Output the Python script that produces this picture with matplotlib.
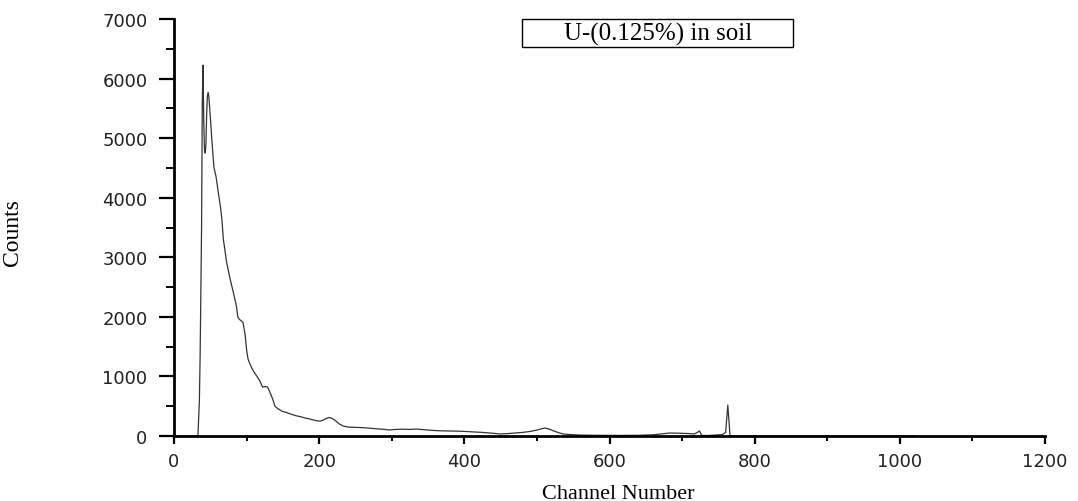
import numpy as np
import matplotlib
matplotlib.use("Agg")
import matplotlib.pyplot as plt
from matplotlib.ticker import MultipleLocator
from matplotlib.patches import Rectangle

# espectro (canal, cuentas)
canal = [0, 30, 33, 35, 36, 37, 38, 39, 40, 41, 42, 43, 44, 45, 46, 47, 48, 50, 52, 55,
         58, 61, 64, 66, 68, 70, 72, 75, 78, 82, 86, 88, 90, 93, 95, 98, 100, 102, 105,
         108, 111, 114, 118, 122, 126, 129, 132, 136, 139, 143, 147, 150, 153, 158, 163,
         168, 172, 176, 181, 186, 190, 194, 198, 202, 206, 210, 213, 216, 220, 224, 228,
         233, 240, 250, 260, 270, 280, 290, 297, 305, 315, 325, 334, 345, 355, 365, 380,
         395, 410, 425, 440, 449, 460, 470, 480, 490, 500, 506, 511, 516, 522, 530, 536,
         545, 560, 580, 600, 620, 640, 660, 683, 700, 710, 717, 721, 724, 727, 735, 745,
         756, 760, 763, 766, 770, 800, 900, 1023]
cuentas = [0, 0, 0, 600, 1340, 2400, 3500, 5600, 6225, 5300, 4800, 4750, 4900, 5400, 5700,
           5770, 5700, 5370, 5000, 4513, 4350, 4094, 3850, 3640, 3300, 3137, 2950, 2768,
           2600, 2400, 2181, 1997, 1960, 1930, 1913, 1700, 1450, 1292, 1200, 1120, 1060,
           1007, 930, 822, 830, 822, 740, 620, 503, 460, 430, 410, 403, 380, 360, 340, 330,
           319, 300, 290, 275, 265, 252, 250, 270, 295, 310, 305, 280, 240, 200, 168, 150,
           145, 140, 130, 120, 110, 101, 110, 115, 110, 117, 105, 95, 88, 84, 80, 70, 60,
           45, 34, 40, 50, 60, 75, 100, 120, 134, 120, 90, 55, 34, 25, 15, 12, 10, 10, 12,
           20, 50, 45, 40, 34, 60, 84, 10, 8, 15, 25, 60, 520, 10, 0, 0, 0, 0]

x_ticks = [0, 200, 400, 600, 800, 1000, 1200]
y_ticks = [0, 1000, 2000, 3000, 4000, 5000, 6000, 7000]
etiqueta = "U-(0.125%) in soil"

fig = plt.figure(figsize=(10.78, 5.02), dpi=100)
ax = fig.add_axes([0.1614, 0.1295, 0.808, 0.8305])

ax.plot(canal, cuentas, color="#333333", lw=0.9)

ax.set_xlim(0, 1200)
ax.set_ylim(0, 7000)
ax.set_xticks(x_ticks)
ax.set_yticks(y_ticks)
ax.xaxis.set_minor_locator(MultipleLocator(100))
ax.yaxis.set_minor_locator(MultipleLocator(500))

for s in ["top", "right"]:
    ax.spines[s].set_visible(False)
for s in ["left", "bottom"]:
    ax.spines[s].set_linewidth(2.0)

ax.tick_params(axis="y", which="major", direction="out", length=11, width=1.6, pad=8)
ax.tick_params(axis="y", which="minor", direction="out", length=5.5, width=1.4)
ax.tick_params(axis="x", which="major", direction="out", length=5.5, width=1.6, pad=6)
ax.tick_params(axis="x", which="minor", direction="out", length=3.5, width=1.4)
for lab in ax.get_xticklabels() + ax.get_yticklabels():
    lab.set_fontfamily("DejaVu Sans")
    lab.set_fontsize(13)
    lab.set_color("#222222")

ax.set_xlabel("Channel Number", family="Liberation Serif", fontsize=16)
ax.xaxis.set_label_coords(0.51, -0.115)
ax.set_ylabel("Counts", family="Liberation Serif", fontsize=17)
ax.yaxis.set_label_coords(-0.173, 0.49)

# recuadro con la etiqueta
ax.add_patch(Rectangle((0.4, 0.933), 0.311, 0.067, transform=ax.transAxes,
                       fill=False, lw=1.0, ec="black", clip_on=False))
ax.text(0.5555, 0.966, etiqueta, transform=ax.transAxes, ha="center", va="center",
        family="Liberation Serif", fontsize=18)

fig.savefig("out.png", dpi=100)
